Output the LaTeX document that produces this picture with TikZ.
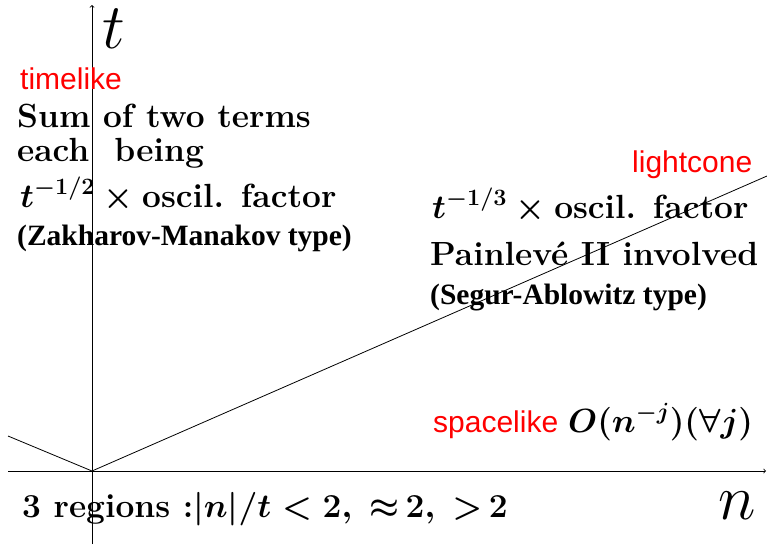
\RequirePackage{fix-cm}
\documentclass[tikz,border=0pt]{standalone}
\usepackage{amsmath,amssymb}
\usepackage{fontspec}
\newfontfamily\arialf{Liberation Sans}
\newfontfamily\timesf{Liberation Serif}
\begin{document}
\begin{tikzpicture}[x=1pt,y=-1pt,
  lbl/.style={inner sep=0pt,anchor=base west},
  big/.style={lbl,font=\fontsize{33.5}{38}\selectfont\bfseries\boldmath},
  red/.style={lbl,text=red,font=\fontsize{30}{34}\selectfont\arialf},
  tms/.style={lbl,font=\fontsize{29.5}{34}\selectfont\timesf\bfseries},
  axis/.style={line width=0.8pt,->,>=to}]
\useasboundingbox (0,0) rectangle (767,544);
\coordinate (O) at (92,471);
\coordinate (tb) at (92,544);
\coordinate (tt) at (92,5);
\coordinate (nl) at (8,471);
\coordinate (nr) at (766,471);
\coordinate (R) at (767,176);
\coordinate (L) at (8,436);
\draw[axis] (tb) -- (tt);
\draw[axis] (nl) -- (nr);
\draw[line width=0.8pt] (L) -- (O) -- (R);
\node[lbl,font=\fontsize{64}{70}\selectfont] (tlab) at (102,48) {$t$};
\node[lbl,font=\fontsize{64}{70}\selectfont] (nlab) at (718,519) {$n$};
\node[red] (timelike) at (20,89) {timelike};
\node[big] (s1) at (17,127) {Sum of two terms};
\node[big] (s2) at (17,161) {each\ \ being};
\node[big] (s3) at (20,207) {$t^{-1/2}\times{}$oscil. factor};
\node[tms] (zm) at (17,245) {(Zakharov-Manakov type)};
\node[red] (lc) at (632,172) {lightcone};
\node[big] (r1) at (432,218) {$t^{-1/3}\times{}$oscil. factor};
\node[big] (r2) at (430,265) {Painlevé II involved};
\node[tms] (sa) at (430,304) {(Segur-Ablowitz type)};
\node[red] (sp) at (433,432) {spacelike};
\node[big] (on) at (568,432) {$O(n^{-j})(\forall j)$};
\node[big] (reg) at (22,517) {3 regions :$|n|/t<2,\;{\approx}\,2,\;{>}\,2$};
\end{tikzpicture}
\end{document}
